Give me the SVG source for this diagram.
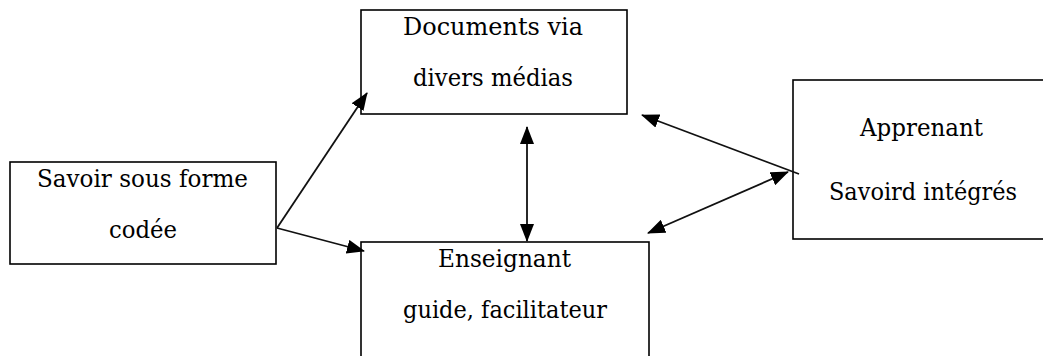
<svg xmlns="http://www.w3.org/2000/svg" width="1043" height="356" viewBox="0 0 1043 356">
<style>
.box{fill:#fff;stroke:#000;stroke-width:1.6}
.t{font-family:'DejaVu Serif','Liberation Serif',serif;font-size:24px;fill:#000;text-anchor:middle}
.c{fill:none;stroke:#111;stroke-width:1.8}
</style>
<defs>
<marker id="ah" markerUnits="userSpaceOnUse" markerWidth="18" markerHeight="14" refX="17" refY="7" orient="auto-start-reverse" viewBox="0 0 18 14">
<path d="M0,0 L18,7 L0,14 z" fill="#000"/>
</marker>
</defs>
<rect width="1043" height="356" fill="#fff"/>
<g id="savoir">
<rect class="box" x="10" y="162" width="266" height="102"/>
<text class="t" x="142.5" y="187" textLength="211" lengthAdjust="spacingAndGlyphs">Savoir sous forme</text>
<text class="t" x="143" y="238" textLength="68" lengthAdjust="spacingAndGlyphs">codée</text>
</g>
<g id="documents">
<rect class="box" x="361" y="10" width="266" height="104"/>
<text class="t" x="493" y="35" textLength="180" lengthAdjust="spacingAndGlyphs">Documents via</text>
<text class="t" x="493" y="86" textLength="160" lengthAdjust="spacingAndGlyphs">divers médias</text>
</g>
<g id="apprenant">
<rect class="box" x="793" y="80" width="260" height="159"/>
<text class="t" x="921.5" y="136" textLength="123" lengthAdjust="spacingAndGlyphs">Apprenant</text>
<text class="t" x="923" y="200" textLength="188" lengthAdjust="spacingAndGlyphs">Savoird intégrés</text>
</g>
<g id="enseignant">
<rect class="box" x="361" y="242" width="288" height="130"/>
<text class="t" x="504.5" y="267" textLength="133" lengthAdjust="spacingAndGlyphs">Enseignant</text>
<text class="t" x="505" y="318" textLength="204" lengthAdjust="spacingAndGlyphs">guide, facilitateur</text>
</g>
<g id="connectors">
<line class="c" x1="277" y1="228" x2="367" y2="93" marker-end="url(#ah)"/>
<line class="c" x1="277" y1="228" x2="364" y2="251" marker-end="url(#ah)"/>
<line class="c" x1="527" y1="127" x2="527" y2="241" marker-start="url(#ah)" marker-end="url(#ah)"/>
<line class="c" x1="799" y1="174" x2="642" y2="115" marker-end="url(#ah)"/>
<line class="c" x1="788" y1="172" x2="648" y2="233" marker-start="url(#ah)" marker-end="url(#ah)"/>
</g>
</svg>
